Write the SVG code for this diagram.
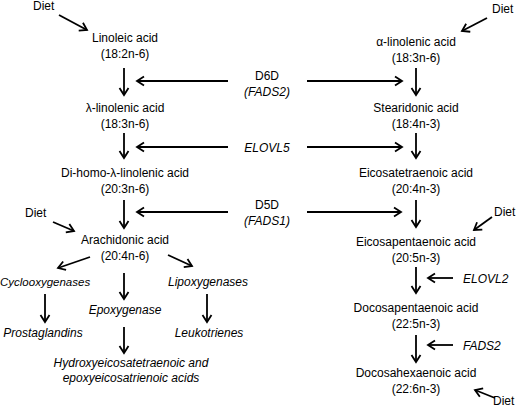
<svg xmlns="http://www.w3.org/2000/svg" width="519" height="407" viewBox="0 0 519 407">
<style>
text{font-family:"Liberation Sans",Arial,sans-serif;font-size:12px;fill:#000}
.m{text-anchor:middle}
.i{font-style:italic}
.c line{stroke:#000;stroke-width:1.8;fill:none;marker-end:url(#ah)}
</style>
<defs>
<marker id="ah" markerWidth="12" markerHeight="12" refX="8" refY="6" orient="auto" markerUnits="userSpaceOnUse">
<path d="M1,1.5 L8,6 L1,10.5" fill="none" stroke="#000" stroke-width="1.8"/>
</marker>
</defs>
<rect width="519" height="407" fill="#fff"/>
<g class="c" id="connectors">
<line x1="124" y1="68" x2="124" y2="95"/>
<line x1="124" y1="133" x2="124" y2="158"/>
<line x1="124" y1="200" x2="124" y2="228"/>
<line x1="124" y1="273" x2="124" y2="299"/>
<line x1="45" y1="294" x2="45" y2="322"/>
<line x1="207" y1="294" x2="207" y2="322"/>
<line x1="124" y1="327" x2="124" y2="353"/>
<line x1="90" y1="257" x2="58" y2="268"/>
<line x1="168" y1="255" x2="192" y2="266"/>
<line x1="416" y1="68" x2="416" y2="95"/>
<line x1="416" y1="133" x2="416" y2="158"/>
<line x1="416" y1="200" x2="416" y2="227"/>
<line x1="416" y1="267" x2="416" y2="293"/>
<line x1="416" y1="335" x2="416" y2="362"/>
<line x1="228" y1="81" x2="137" y2="81"/>
<line x1="307" y1="81" x2="402" y2="81"/>
<line x1="228" y1="147" x2="137" y2="147"/>
<line x1="307" y1="147" x2="402" y2="147"/>
<line x1="228" y1="212" x2="137" y2="212"/>
<line x1="307" y1="212" x2="401" y2="212"/>
<line x1="453" y1="278" x2="428" y2="278"/>
<line x1="453" y1="345" x2="428" y2="345"/>
<line x1="59" y1="15" x2="87" y2="30"/>
<line x1="487" y1="18" x2="462" y2="31"/>
<line x1="53" y1="222" x2="74" y2="231"/>
<line x1="492" y1="217" x2="474" y2="230"/>
<line x1="495" y1="398" x2="475" y2="390"/>
</g>
<g id="linoleic"><text class="m" x="125" y="42">Linoleic acid</text><text class="m" x="125" y="58">(18:2n-6)</text></g>
<g id="gla"><text class="m" x="125" y="112">λ-linolenic acid</text><text class="m" x="125" y="128">(18:3n-6)</text></g>
<g id="dgla"><text class="m" x="125" y="177">Di-homo-λ-linolenic acid</text><text class="m" x="125" y="193">(20:3n-6)</text></g>
<g id="aa"><text class="m" x="125" y="244">Arachidonic acid</text><text class="m" x="125" y="260">(20:4n-6)</text></g>
<g id="ala"><text class="m" x="416" y="46">α-linolenic acid</text><text class="m" x="416" y="62">(18:3n-6)</text></g>
<g id="sda"><text class="m" x="416" y="112">Stearidonic acid</text><text class="m" x="416" y="128">(18:4n-3)</text></g>
<g id="eta"><text class="m" x="416" y="177">Eicosatetraenoic acid</text><text class="m" x="416" y="193">(20:4n-3)</text></g>
<g id="epa"><text class="m" x="416" y="246">Eicosapentaenoic acid</text><text class="m" x="416" y="262">(20:5n-3)</text></g>
<g id="dpa"><text class="m" x="416" y="312">Docosapentaenoic acid</text><text class="m" x="416" y="328">(22:5n-3)</text></g>
<g id="dha"><text class="m" x="416" y="377">Docosahexaenoic acid</text><text class="m" x="416" y="393">(22:6n-3)</text></g>
<g id="d6d"><text class="m" x="267" y="80">D6D</text><text class="m i" x="267" y="96">(FADS2)</text></g>
<g id="elovl5"><text class="m i" x="267" y="152">ELOVL5</text></g>
<g id="d5d"><text class="m" x="267" y="209">D5D</text><text class="m i" x="267" y="225">(FADS1)</text></g>
<g id="elovl2"><text class="i" x="463" y="283">ELOVL2</text></g>
<g id="fads2b"><text class="i" x="463" y="350">FADS2</text></g>
<g id="diet1"><text x="33" y="10">Diet</text></g>
<g id="diet2"><text x="492" y="13">Diet</text></g>
<g id="diet3"><text x="25" y="217">Diet</text></g>
<g id="diet4"><text x="494" y="216">Diet</text></g>
<g id="diet5"><text x="493" y="405">Diet</text></g>
<g id="cox"><text class="i" x="0" y="286" style="font-size:11.5px">Cyclooxygenases</text></g>
<g id="lox"><text class="m i" x="208" y="286">Lipoxygenases</text></g>
<g id="epox"><text class="m i" x="125" y="314">Epoxygenase</text></g>
<g id="pg"><text class="m i" x="43" y="337">Prostaglandins</text></g>
<g id="lt"><text class="m i" x="209" y="337">Leukotrienes</text></g>
<g id="hete"><text class="m i" x="131" y="367">Hydroxyeicosatetraenoic and</text><text class="m i" x="131" y="382">epoxyeicosatrienoic acids</text></g>
</svg>
